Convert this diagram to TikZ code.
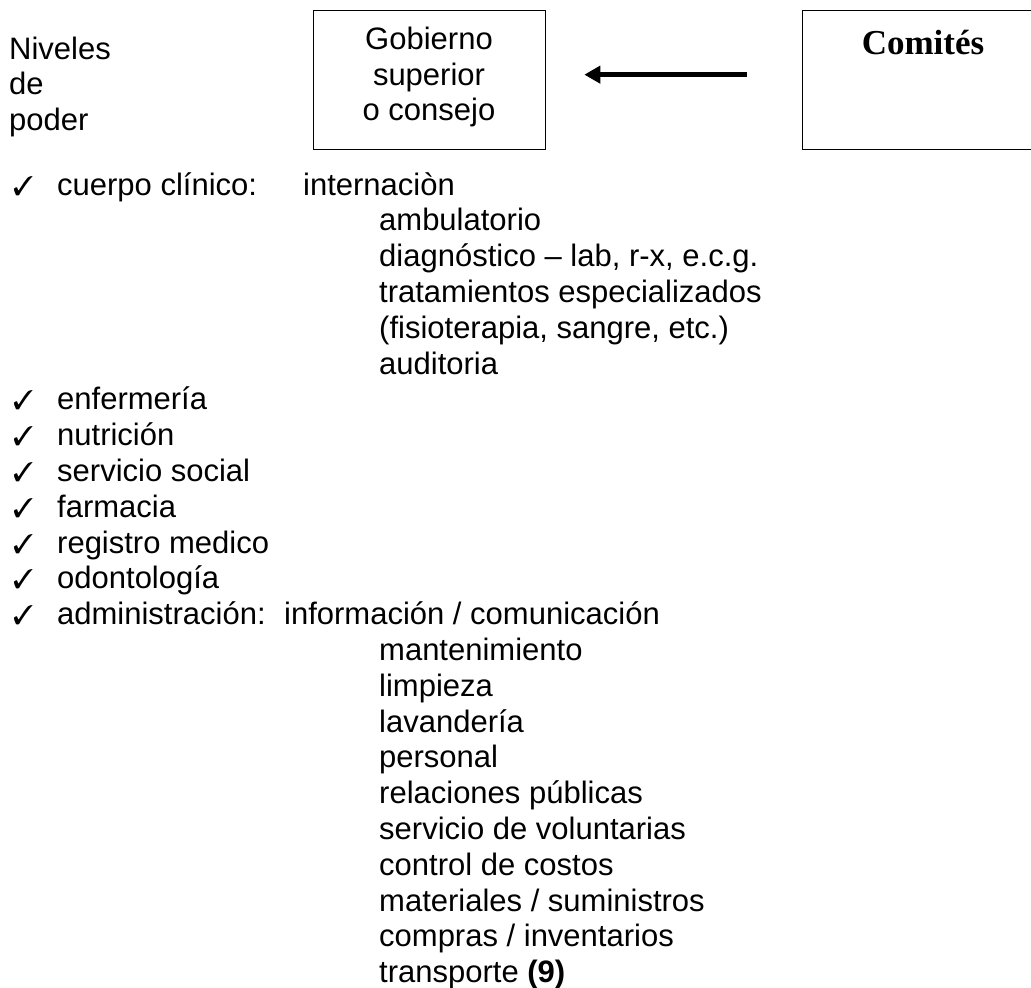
\documentclass[tikz,border=0pt]{standalone}
\usepackage{fontspec}
\usepackage{pifont}
\setmainfont{Liberation Sans}
\newfontfamily\titleserif{Liberation Serif}
\usetikzlibrary{arrows.meta}
\tikzset{
  txt/.style={inner sep=0pt, anchor=base west, font=\fontsize{31}{35.8}\selectfont},
  ctxt/.style={inner sep=0pt, anchor=base, font=\fontsize{31}{35.8}\selectfont},
  chk/.style={inner sep=0pt, anchor=base west, font=\fontsize{27}{27}\selectfont},
  boxed/.style={draw, line width=1.3pt, inner sep=0pt},
  bigarrow/.style={line width=5.3pt, -{Triangle[length=16pt,width=17pt]}}
}
\begin{document}
\begin{tikzpicture}[x=1pt,y=1pt]
\useasboundingbox (0,0) rectangle (1031,-988);
\fill[white] (0,0) rectangle (1031,-988);
% boxes
\node[boxed, minimum width=232pt, minimum height=139pt, anchor=north west] (gob) at (313,-10) {};
\begin{scope}
\clip (0,0) rectangle (1031,-988);
\node[boxed, minimum width=240pt, minimum height=139pt, anchor=north west] (com) at (802,-10) {};
\end{scope}
% box texts
\node[ctxt] (g1) at (429,-49) {Gobierno};
\node[ctxt] (g2) at (429,-85) {superior};
\node[ctxt] (g3) at (429,-120) {o consejo};
\node[inner sep=0pt, anchor=base, font=\titleserif\bfseries\fontsize{35}{40}\selectfont] (ct) at (923,-54) {Comités};
% arrow
\coordinate (as) at ([xshift=-55pt,yshift=5.5pt]com.west);
\coordinate (ae) at ([xshift=38pt,yshift=5.5pt]gob.east);
\draw[bigarrow] (as) -- (ae);
% left label
\node[txt] (n1) at (9,-59) {Niveles};
\node[txt] (n2) at (9,-94.5) {de};
\node[txt] (n3) at (9,-130) {poder};
% checklist
\def\ls{35.8}
\foreach \i/\t in {0/{cuerpo clínico:},6/{enfermería},7/{nutrición},8/{servicio social},9/{farmacia},10/{registro medico},11/{odontología},12/{administración:}}{
  \node[chk] (c\i) at (13,{-195-\i*\ls}) {\ding{51}};
  \node[txt] (t\i) at (57,{-195-\i*\ls}) {\t};
}
\node[txt] (s0) at (303,-195) {internaciòn};
\foreach \i/\t in {1/{ambulatorio},2/{diagnóstico – lab, r-x, e.c.g.},3/{tratamientos especializados},4/{(fisioterapia, sangre, etc.)},5/{auditoria}}{
  \node[txt] (s\i) at (379,{-195-\i*\ls}) {\t};
}
\node[txt] (a0) at (284,{-195-12*\ls}) {información / comunicación};
\foreach \i/\t in {13/{mantenimiento},14/{limpieza},15/{lavandería},16/{personal},17/{relaciones públicas},18/{servicio de voluntarias},19/{control de costos},20/{materiales / suministros},21/{compras / inventarios},22/{transporte \textbf{(9)}}}{
  \node[txt] (a\i) at (379,{-195-\i*\ls}) {\t};
}
\end{tikzpicture}
\end{document}
